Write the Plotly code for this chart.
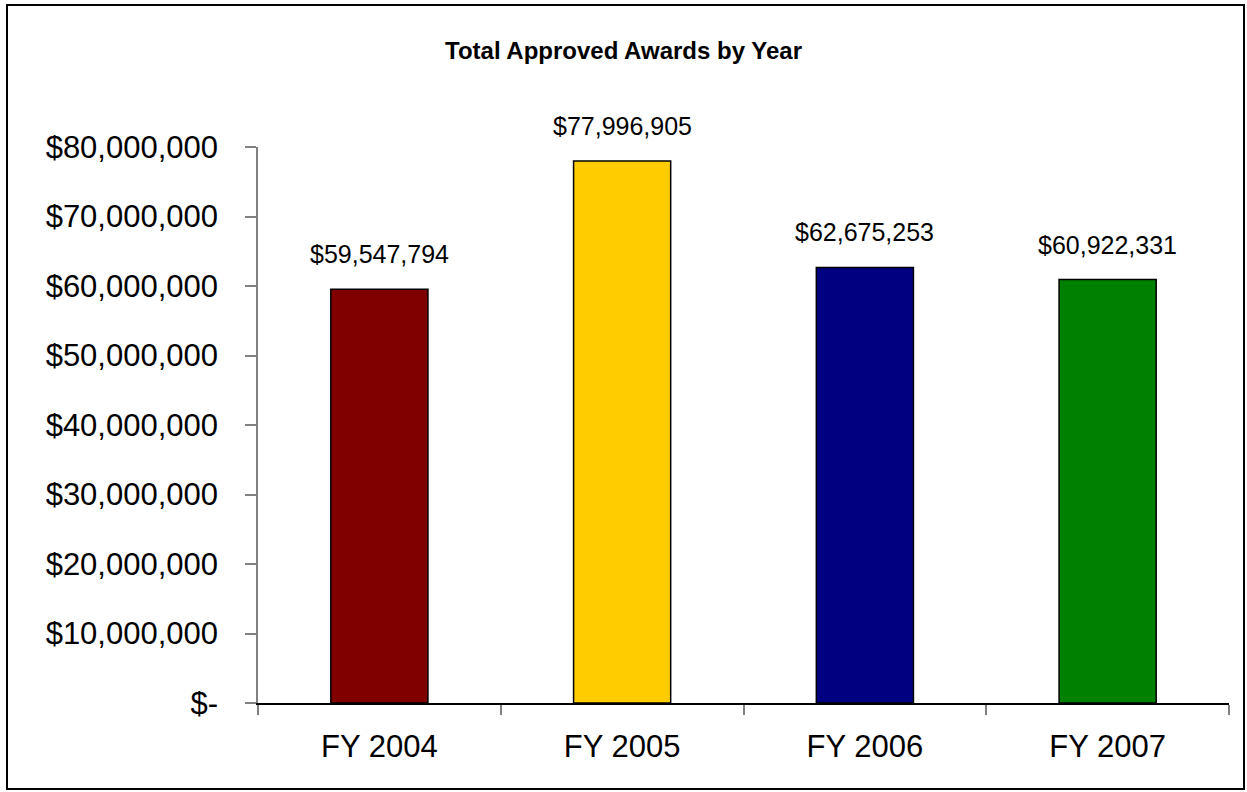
import plotly.graph_objects as go

categories = ["FY 2004", "FY 2005", "FY 2006", "FY 2007"]
values = [59547794, 77996905, 62675253, 60922331]
bar_colors = ["#800000", "#FFCC00", "#000080", "#008000"]
y_tickvals = [0, 10000000, 20000000, 30000000, 40000000, 50000000, 60000000, 70000000, 80000000]
y_ticktext = ["$-", "$10,000,000", "$20,000,000", "$30,000,000", "$40,000,000",
              "$50,000,000", "$60,000,000", "$70,000,000", "$80,000,000"]
title_text = "Total Approved Awards by Year"

W, H = 1247, 792
L, R, T, B = 258, 18, 147, 89
pw, ph = W - L - R, H - T - B

def px_x(x):
    return (x - L) / pw

def px_y(y):
    return (H - B - y) / ph

ARIAL = "Liberation Sans, Arial, sans-serif"

fig = go.Figure()
fig.add_trace(go.Bar(
    x=categories, y=values,
    marker=dict(color=bar_colors, line=dict(color="black", width=1.5)),
    width=0.4,
    hoverinfo="skip",
))

for c, v in zip(categories, values):
    fig.add_annotation(x=c, y=v, text="${:,}".format(v), showarrow=False,
                       yanchor="bottom", yshift=19,
                       font=dict(family=ARIAL, size=25, color="black"))

fig.update_layout(
    width=W, height=H,
    margin=dict(l=L, r=R, t=T, b=B, autoexpand=False),
    paper_bgcolor="white", plot_bgcolor="white",
    showlegend=False,
    title=dict(text="<b>" + title_text + "</b>", x=0.5, xref="container", xanchor="center",
               y=1 - 51 / H, yanchor="middle", yref="container",
               font=dict(family=ARIAL, size=24, color="black")),
    xaxis=dict(
        range=[-0.5, 3.5], showgrid=False, zeroline=False,
        showline=True, linecolor="black", linewidth=1.5,
        ticks="outside", tickson="boundaries", ticklen=10, tickcolor="#808080", tickwidth=1.5,
        tickfont=dict(family=ARIAL, size=31, color="black"),
        ticklabelstandoff=15,
    ),
    yaxis=dict(
        range=[0, 80000000], showgrid=False, zeroline=False,
        showline=True, linecolor="#808080", linewidth=1.5,
        ticks="outside", ticklen=11, tickcolor="#808080", tickwidth=1.5,
        tickvals=y_tickvals, ticktext=y_ticktext,
        tickfont=dict(family=ARIAL, size=31, color="black"),
        ticklabelstandoff=21,
    ),
    shapes=[dict(type="rect", xref="paper", yref="paper",
                 x0=px_x(7), x1=px_x(1244), y0=px_y(789), y1=px_y(5),
                 line=dict(color="black", width=2), fillcolor="rgba(0,0,0,0)", layer="below")],
)

fig.write_html("out.html", config={"displayModeBar": False},
               post_script="document.body.style.margin='0';document.body.style.overflow='hidden';")
